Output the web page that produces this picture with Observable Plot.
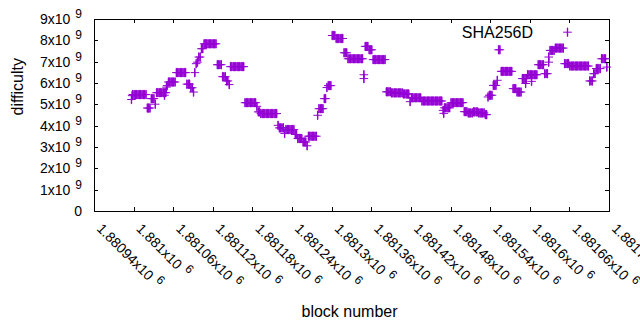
<!DOCTYPE html>
<html><head><meta charset="utf-8">
<script src="https://cdn.jsdelivr.net/npm/d3@7"></script>
<script src="https://cdn.jsdelivr.net/npm/@observablehq/plot@0.6"></script>
<style>html,body{margin:0;padding:0;background:#fff;}</style>
</head><body><div id="chart"></div>
<script>
// ---------- data ----------
const seriesName = "SHA256D";
const xLabel = "block number";
const yLabel = "difficulty";
const xDomain = [1880940, 1881720];
const yDomain = [0, 9e9];
const xTicks = [1880940, 1881000, 1881060, 1881120, 1881180, 1881240, 1881300,
                1881360, 1881420, 1881480, 1881540, 1881600, 1881660, 1881720];
const yTicks = [0, 1e9, 2e9, 3e9, 4e9, 5e9, 6e9, 7e9, 8e9, 9e9];

// difficulty (x1e9) read every 2 blocks starting at firstBlock
const firstBlock = 1880996;
const blockStep = 2;
const difficulty = [
  5.25,
  5.48,5.48,5.48,5.48,5.48,5.48,5.48,5.48,5.48,5.48,5.48,
  4.85,4.85,4.85,
  5.29,5.29,5.29,
  5.03,
  5.57,5.57,5.57,5.57,5.57,5.57,5.57,5.57,
  5.9,
  6.07,6.07,6.07,6.07,6.07,6.07,
  6.51,6.51,6.51,6.51,6.51,6.51,6.51,6.51,
  5.97,5.97,5.97,
  5.8,5.8,
  5.6,
  6.51,
  6.93,
  7.0,
  7.24,7.24,
  7.63,7.63,
  7.86,7.86,7.86,7.86,7.86,7.86,7.86,7.86,7.86,7.86,
  6.88,6.88,6.88,6.88,
  6.32,6.32,6.32,
  6.12,6.12,
  5.95,
  6.79,6.79,6.79,6.79,6.79,6.79,6.79,6.79,6.79,6.79,6.79,
  5.1,5.1,5.1,5.1,5.1,5.1,5.1,5.1,5.1,
  4.93,
  4.67,4.67,
  4.59,4.59,4.59,4.59,4.59,4.59,4.59,4.59,4.59,4.59,4.59,4.59,4.59,
  4.04,
  3.92,3.92,3.92,3.92,
  3.66,
  3.84,3.84,3.84,3.84,3.84,3.84,3.84,
  3.61,3.61,
  3.42,3.42,3.42,3.42,
  3.26,3.26,3.26,
  3.08,
  3.53,3.53,3.53,3.53,3.53,3.53,3.53,
  4.51,
  4.82,4.82,4.82,4.82,
  5.29,5.29,
  5.81,
  5.9,5.9,5.9,
  8.25,8.25,8.25,
  8.11,8.11,8.11,8.11,8.11,8.11,
  7.44,7.44,7.44,
  7.16,7.16,7.16,7.16,7.16,7.16,7.16,7.16,7.16,7.16,7.16,7.16,
  6.41,
  7.74,7.74,7.74,
  7.58,7.58,7.58,
  7.12,7.12,7.12,7.12,7.12,7.12,7.12,7.12,7.12,7.12,
  5.61,5.61,5.61,5.61,
  5.56,5.56,5.56,5.56,5.56,5.56,5.56,5.56,5.56,
  5.51,5.51,5.51,5.51,5.51,
  5.15,
  5.33,5.33,5.33,5.33,5.33,5.33,5.33,5.33,
  5.18,5.18,5.18,5.18,5.18,5.18,5.18,5.18,5.18,5.18,5.18,5.18,5.18,5.18,5.18,5.18,
  4.74,
  4.86,4.86,4.86,4.86,4.86,
  5.1,5.1,5.1,5.1,5.1,5.1,5.1,5.1,5.1,5.1,
  4.68,4.68,4.68,
  4.62,4.62,4.62,4.62,
  4.67,4.67,4.67,4.67,
  4.62,4.62,4.62,4.62,4.62,
  4.54,4.54,
  5.37,
  5.45,5.45,5.45,
  5.91,5.91,5.91,
  6.15,
  7.58,7.58,
  6.57,6.57,6.57,6.57,6.57,6.57,6.57,6.57,6.57,
  5.76,5.76,5.76,
  5.6,5.6,5.6,5.6,
  6.23,6.23,6.23,6.23,
  6.41,6.41,6.41,6.41,6.41,6.41,6.41,6.41,
  6.88,6.88,6.88,6.88,6.88,
  6.46,6.46,6.46,
  7.0,
  7.55,7.55,7.55,7.55,
  7.66,7.66,7.66,7.66,7.66,7.66,7.66,
  6.93,6.93,6.93,6.93,
  6.82,6.82,6.82,6.82,6.82,6.82,6.82,6.82,6.82,6.82,6.82,6.82,6.82,6.82,6.82,
  6.12,6.12,6.12,
  6.46,6.46,
  6.7,6.7,6.7,6.7,
  7.16,7.16,7.16,7.16,
  6.77
];
// isolated readings lying off the main sequence
const extraBlock      = [1880997, 1881046, 1881049, 1881348, 1881469, 1881593, 1881602, 1881628];
const extraDifficulty = [5.43,    5.45,    5.83,    6.23,    4.6,     6.0,     6.1,     7.24];

// ---------- build ----------
const points = difficulty.map((d, i) => ({block: firstBlock + blockStep * i, difficulty: d * 1e9}))
  .concat(extraBlock.map((b, i) => ({block: b, difficulty: extraDifficulty[i] * 1e9})));

const purple = "#9400d3";
// "+" marker: 1px horizontal arm, slightly wider vertical bar
const plusSymbol = {
  draw(ctx, size) {
    const r = Math.sqrt(size / Math.PI);
    ctx.moveTo(-r, 0); ctx.lineTo(r, 0);
    ctx.moveTo(-0.2, -r); ctx.lineTo(0.2, -r); ctx.lineTo(0.2, r); ctx.lineTo(-0.2, r); ctx.closePath();
  }
};
const fmtY = d => d === 0 ? "0" : `${d / 1e9}x10^9`;
const fmtX = d => `${+(d / 1e6).toPrecision(6)}x10^6`;

const chart = Plot.plot({
  width: 640,
  height: 330,
  marginLeft: 94,
  marginRight: 31,
  marginTop: 19,
  marginBottom: 119,
  style: {fontFamily: "'Liberation Sans', Arial, sans-serif", fontSize: "14px", background: "white", color: "black"},
  x: {domain: xDomain, axis: null},
  y: {domain: yDomain, axis: null},
  marks: [
    Plot.frame({stroke: "black", strokeWidth: 1}),
    Plot.dot(points, {x: "block", y: "difficulty", symbol: plusSymbol, r: 4.3, stroke: purple, strokeWidth: 1, fill: purple}),
    // y tick labels
    Plot.text(yTicks, {y: d => d, frameAnchor: "left", dx: -12.5, textAnchor: "end", text: fmtY, fontSize: 14, fill: "black"}),
    // x tick labels
    Plot.text(xTicks, {x: d => d, frameAnchor: "bottom", dx: 1.5, dy: 18, rotate: 45, textAnchor: "start", lineAnchor: "bottom", text: fmtX, fontSize: 14, fill: "black"}),
    // axis titles
    Plot.text([yLabel], {frameAnchor: "left", dx: -77, rotate: -90, text: d => d, fontSize: 16, fill: "black"}),
    Plot.text([xLabel], {frameAnchor: "bottom", dx: -2.5, dy: 105, text: d => d, fontSize: 16, fill: "black"}),
    // key
    Plot.text([seriesName], {frameAnchor: "top-right", dx: -76.5, dy: 18, textAnchor: "end", lineAnchor: "bottom", text: d => d, fontSize: 16, fill: "black"}),
    Plot.dot([seriesName], {frameAnchor: "top-right", dx: -42, dy: 12.7, symbol: plusSymbol, r: 4.3, stroke: purple, strokeWidth: 1, fill: purple})
  ]
});

// superscripts for "x10^n" labels
d3.select(chart).selectAll("text").each(function() {
  const t = this.textContent;
  if (!t.includes("^")) return;
  const [base, sup] = t.split("^");
  const sel = d3.select(this);
  sel.text(null);
  sel.append("tspan").text(base);
  sel.append("tspan").attr("dx", 5).attr("dy", -6).attr("font-size", 12).text(sup);
});

// inward tick marks on all four sides, from Plot's own scales
const sx = chart.scale("x"), sy = chart.scale("y");
const [xa, xb] = sx.range, [yb, ya] = sy.range;
const tickLen = 4;
const g = d3.select(chart).append("g").attr("stroke", "black").attr("stroke-width", 1);
for (const t of xTicks) {
  const X = Math.round(sx.apply(t)) + 0.5;
  g.append("line").attr("x1", X).attr("x2", X).attr("y1", yb).attr("y2", yb - tickLen);
  g.append("line").attr("x1", X).attr("x2", X).attr("y1", ya).attr("y2", ya + tickLen);
}
for (const t of yTicks) {
  const Y = Math.round(sy.apply(t)) + 0.5;
  g.append("line").attr("x1", xa).attr("x2", xa + tickLen).attr("y1", Y).attr("y2", Y);
  g.append("line").attr("x1", xb).attr("x2", xb - tickLen).attr("y1", Y).attr("y2", Y);
}

document.getElementById("chart").appendChild(chart);
</script>
</body></html>
